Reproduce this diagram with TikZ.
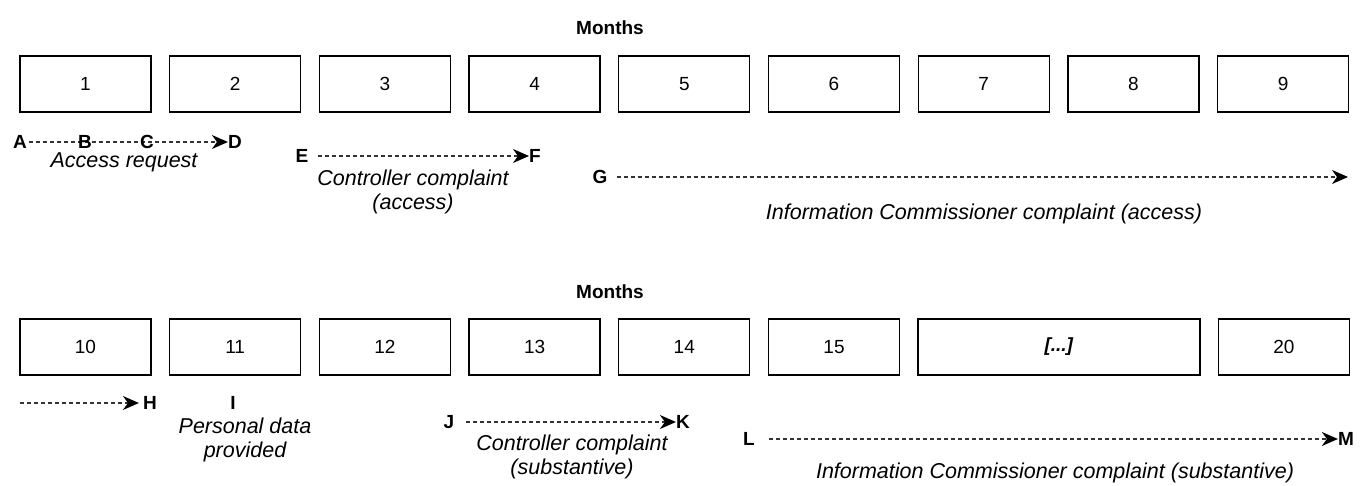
\documentclass[tikz,border=0pt]{standalone}
\usepackage{fontspec}
\setmainfont{Liberation Sans}
\usetikzlibrary{arrows.meta}
\begin{document}
\begin{tikzpicture}[x=1bp,y=-1bp,
  month/.style={draw, line width=1.3bp, minimum width=131bp, minimum height=56bp,
    inner sep=0pt, font=\fontsize{19bp}{22bp}\selectfont},
  heading/.style={font=\fontsize{19bp}{22bp}\selectfont\bfseries},
  tag/.style={inner sep=0pt, font=\fontsize{19bp}{22bp}\selectfont\bfseries},
  note/.style={inner sep=0pt, align=center, font=\fontsize{21.5bp}{24bp}\selectfont\itshape},
  span/.style={draw=black!80, line width=1.3bp, dash pattern=on 4bp off 3bp,
    -{Stealth[length=16bp,width=14bp,inset=5bp,fill=black,color=black]}}
]
\useasboundingbox (0,0) rectangle (1361,486);

% ---- first year: months 1 to 9 ----
\node[heading] (mtop) at (610,28) {Months};
\foreach \i in {1,...,9}
  \node[month] (t\i) at ({85.5+(\i-1)*149.7},84) {\i};

\node[tag] (A) at (20,142) {A};
\node[tag] (D) at (235,142) {D};
\draw[span, shorten <=2bp] (A.east) -- (D.west);
\node[tag] (B) at (85,142) {B};
\node[tag] (C) at (147,142) {C};
\node[note] (accreq) at (124,162) {Access request};

\node[tag] (E) at (302,156) {E};
\node[tag] (F) at (535,156) {F};
\draw[span, shorten <=9bp] (E.east) -- (F.west);
\node[note] (ctrl1) at (413,192) {Controller complaint\\(access)};

\node[tag] (G) at (600,177) {G};
\coordinate (Gend) at (1348,177);
\draw[span, shorten <=9bp] (G.east) -- (Gend);
\node[note] (ico1) at (984,214) {Information Commissioner complaint (access)};

% ---- second year: months 10 to 20 ----
\node[heading] (mbot) at (610,292) {Months};
\foreach \i [count=\k] in {10,...,15}
  \node[month] (b\k) at ({85.5+(\k-1)*149.7},347) {\i};
\node[month, minimum width=282bp] (bgap) at (1059,347) {\textbf{\textit{[...]}}};
\node[month] (b20) at (1283.9,347) {20};

\coordinate (Hstart) at (20,403);
\node[tag] (H) at (150,403) {H};
\draw[span, shorten >=4bp] (Hstart) -- (H.west);
\node[tag] (I) at (233,403) {I};
\node[note] (pdata) at (245,440) {Personal data\\provided};

\node[tag] (J) at (449,422) {J};
\node[tag] (K) at (683,422) {K};
\draw[span, shorten <=12bp] (J.east) -- (K.west);
\node[note] (ctrl2) at (572,457) {Controller complaint\\(substantive)};

\node[tag] (L) at (749,439) {L};
\node[tag] (M) at (1346,439) {M};
\draw[span, shorten <=14bp] (L.east) -- (M.west);
\node[note] (ico2) at (1055,473) {Information Commissioner complaint (substantive)};
\end{tikzpicture}
\end{document}
